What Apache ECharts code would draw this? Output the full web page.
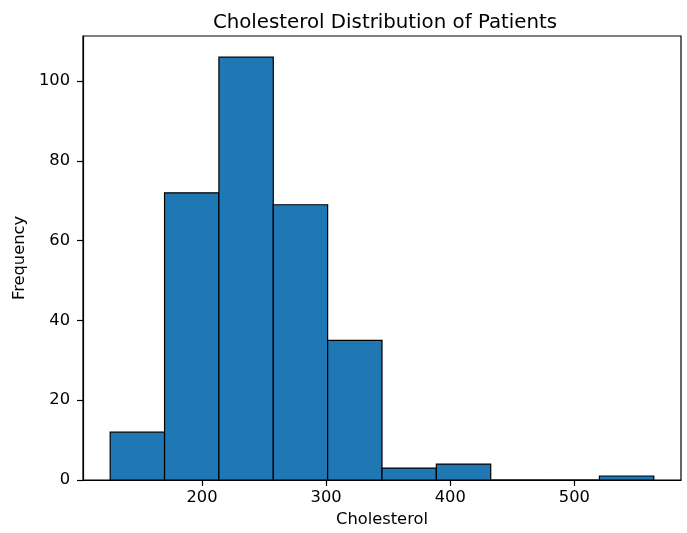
<!DOCTYPE html>
<html>
<head>
<meta charset="utf-8">
<script src="https://cdn.jsdelivr.net/npm/echarts@6/dist/echarts.min.js"></script>
<style>
html,body{margin:0;padding:0;background:#fff;}
#chart{width:687px;height:533px;}
</style>
</head>
<body>
<div id="chart"></div>
<script>
// Bin edges (cholesterol) and counts
const binEdges = [126, 169.8, 213.6, 257.4, 301.2, 345, 388.8, 432.6, 476.4, 520.2, 564];
const counts = [12, 72, 106, 69, 35, 3, 4, 0, 0, 1];
const xTicks = [200, 300, 400, 500];
const yTicks = [0, 20, 40, 60, 80, 100];

const titleText = 'Cholesterol Distribution of Patients';
const xName = 'Cholesterol';
const yName = 'Frequency';

const barData = counts.map((c, i) => [binEdges[i], binEdges[i + 1], c]);

const chart = echarts.init(document.getElementById('chart'), null, {renderer: 'canvas'});
const font = 'DejaVu Sans';
const fs = 16.3;
const option = {
  animation: false,
  backgroundColor: '#fff',
  title: {
    text: titleText,
    left: 380, top: 8, textAlign: 'center',
    textStyle: {fontFamily: font, fontSize: 19.8, fontWeight: 'normal', color: '#000'}
  },
  grid: {left: 83, right: 6, top: 36, bottom: 52, show: true, borderColor: '#000', borderWidth: 1.2, backgroundColor: 'transparent'},
  xAxis: {
    type: 'value', min: 104.1, max: 585.9,
    name: xName, nameLocation: 'middle', nameGap: 32,
    nameTextStyle: {fontFamily: font, fontSize: fs, color: '#000'},
    axisLine: {show: true, onZero: false, lineStyle: {color: '#000', width: 1.2}},
    axisTick: {show: true, length: 6, customValues: xTicks, lineStyle: {color: '#000', width: 1.2}},
    axisLabel: {customValues: xTicks, margin: 10, fontFamily: font, fontSize: fs, color: '#000'},
    splitLine: {show: false}
  },
  yAxis: {
    type: 'value', min: 0, max: 111.3,
    name: yName, nameLocation: 'middle', nameGap: 50,
    nameTextStyle: {fontFamily: font, fontSize: fs, color: '#000'},
    axisLine: {show: true, lineStyle: {color: '#000', width: 1.2}},
    axisTick: {show: true, length: 6, customValues: yTicks, lineStyle: {color: '#000', width: 1.2}},
    axisLabel: {customValues: yTicks, margin: 13, fontFamily: font, fontSize: fs, color: '#000'},
    splitLine: {show: false}
  },
  series: [{
    type: 'custom',
    data: barData,
    encode: {x: [0, 1], y: 2},
    renderItem: function (params, api) {
      const p0 = api.coord([api.value(0), 0]);
      const p1 = api.coord([api.value(1), api.value(2)]);
      return {
        type: 'rect',
        shape: {x: p0[0], y: p1[1], width: p1[0] - p0[0], height: p0[1] - p1[1]},
        style: {fill: '#1f77b4', stroke: '#000', lineWidth: 1.2}
      };
    }
  }]
};
chart.setOption(option);
</script>
</body>
</html>
